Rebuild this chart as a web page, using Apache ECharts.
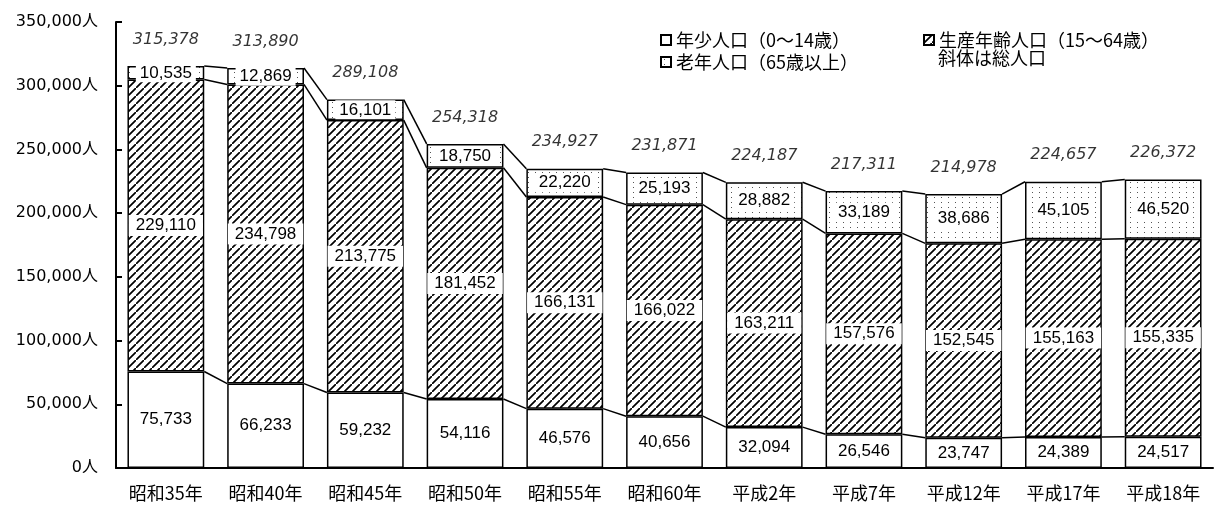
<!DOCTYPE html>
<html><head><meta charset="utf-8">
<script src="https://cdn.jsdelivr.net/npm/echarts@6/dist/echarts.min.js"></script>
<style>html,body{margin:0;padding:0;background:#fff}#c{width:1215px;height:507px}</style>
</head><body><div id="c"></div>
<script>
const categories = ['昭和35年','昭和40年','昭和45年','昭和50年','昭和55年','昭和60年','平成2年','平成7年','平成12年','平成17年','平成18年'];
const young   = [75733, 66233, 59232, 54116, 46576, 40656, 32094, 26546, 23747, 24389, 24517];
const working = [229110, 234798, 213775, 181452, 166131, 166022, 163211, 157576, 152545, 155163, 155335];
const elderly = [10535, 12869, 16101, 18750, 22220, 25193, 28882, 33189, 38686, 45105, 46520];
const totals  = [315378, 313890, 289108, 254318, 234927, 231871, 224187, 217311, 214978, 224657, 226372];
const yTicks  = [0, 50000, 100000, 150000, 200000, 250000, 300000, 350000];
const names = ['年少人口（0〜14歳）', '生産年齢人口（15〜64歳）', '老年人口（65歳以上）'];

function hatch() {
  const s = 8;
  const c = document.createElement('canvas'); c.width = s; c.height = s;
  const g = c.getContext('2d');
  g.fillStyle = '#fff'; g.fillRect(0, 0, s, s);
  g.strokeStyle = '#000'; g.lineWidth = 1.7;
  g.beginPath();
  g.moveTo(-1, s + 1); g.lineTo(s + 1, -1);
  g.moveTo(-s - 1, 1); g.lineTo(1, -s - 1);
  g.moveTo(s - 1, 2 * s + 1); g.lineTo(2 * s + 1, s - 1);
  g.stroke();
  return c;
}
function dots() {
  const c = document.createElement('canvas'); c.width = 7; c.height = 5;
  const g = c.getContext('2d');
  g.fillStyle = '#fff'; g.fillRect(0, 0, 7, 5);
  g.fillStyle = '#555'; g.fillRect(3, 2, 1, 1);
  return c;
}
const fmt = v => v.toLocaleString('en-US');
const numFont = "'Liberation Sans', 'Noto Sans CJK JP', sans-serif";
const jpFont = "'Noto Sans CJK JP', sans-serif";

const cum1 = young;
const cum2 = young.map((v, i) => v + working[i]);
const linkData = [];
for (let i = 0; i < categories.length - 1; i++) {
  linkData.push([i, cum1[i], cum1[i + 1], cum2[i], cum2[i + 1], totals[i], totals[i + 1]]);
}
const BAR = 0.77;

const chart = echarts.init(document.getElementById('c'), null, {renderer: 'canvas'});
const borderStyle = {borderColor: '#000', borderWidth: 1.5};
const lbl = (pad) => ({
  show: true, position: 'inside', color: '#000', fontSize: 17, fontFamily: numFont,
  backgroundColor: '#fff', padding: pad, formatter: p => fmt(p.value)
});
chart.setOption({
  animation: false,
  grid: {left: 116, top: 22, width: 1097, height: 446},
  legend: [
    {data: [names[0]], left: 655, top: 26},
    {data: [names[1]], left: 918, top: 26},
    {data: [names[2]], left: 655, top: 48}
  ].map(l => Object.assign(l, {
    icon: 'rect', itemWidth: 10, itemHeight: 10, itemGap: 4,
    textStyle: {fontSize: 18, fontFamily: jpFont, color: '#000'},
    selectedMode: false
  })),
  graphic: [{type: 'text', left: 938, top: 49, style: {text: '斜体は総人口', font: "18px 'Noto Sans CJK JP'", fill: '#000'}}],
  xAxis: {
    type: 'category', data: categories,
    axisLine: {lineStyle: {color: '#000', width: 2}},
    axisTick: {inside: true, length: 6, lineStyle: {color: '#000', width: 2}},
    axisLabel: {color: '#000', fontSize: 18, fontFamily: jpFont, margin: 16, interval: 0, hideOverlap: false}
  },
  yAxis: {
    type: 'value', min: 0, max: 350000, interval: 50000,
    axisLine: {show: true, lineStyle: {color: '#000', width: 2}},
    axisTick: {show: true, inside: true, length: 6, lineStyle: {color: '#000', width: 2}},
    splitLine: {show: false},
    axisLabel: {color: '#000', fontSize: 16, fontFamily: "'DejaVu Sans', 'Noto Sans CJK JP', sans-serif", margin: 18,
      formatter: v => yTicks.includes(v) ? fmt(v) + '人' : ''}
  },
  series: [
    {name: names[0], type: 'bar', stack: 't', barWidth: (BAR * 100) + '%', data: young,
      itemStyle: Object.assign({color: '#fff'}, borderStyle), label: lbl([2, 4]), z: 3},
    {name: names[1], type: 'bar', stack: 't', data: working,
      itemStyle: Object.assign({color: {image: hatch(), repeat: 'repeat'}}, borderStyle), label: lbl([2, 7]), z: 3},
    {name: names[2], type: 'bar', stack: 't', data: elderly,
      itemStyle: Object.assign({color: {image: dots(), repeat: 'repeat'}}, borderStyle), label: lbl([1, 4]), z: 3},
    {type: 'custom', data: linkData, encode: {x: 0, y: 1}, z: 2, silent: true,
      renderItem: (params, api) => {
        const i = api.value(0);
        const half = api.size([1, 0])[0] * BAR / 2;
        const children = [];
        for (let k = 0; k < 3; k++) {
          const a = api.coord([i, api.value(1 + 2 * k)]);
          const b = api.coord([i + 1, api.value(2 + 2 * k)]);
          children.push({type: 'line', shape: {x1: a[0] + half, y1: a[1], x2: b[0] - half, y2: b[1]},
            style: {stroke: '#000', lineWidth: 1.5}});
        }
        return {type: 'group', children};
      }},
    {type: 'scatter', data: totals, symbolSize: 1, itemStyle: {color: 'rgba(0,0,0,0)'}, silent: true,
      label: {show: true, position: 'top', distance: 18, color: '#000', fontSize: 16, fontStyle: 'italic',
        fontFamily: "'DejaVu Sans', sans-serif", formatter: p => fmt(p.value)}}
  ]
});
</script></body></html>
